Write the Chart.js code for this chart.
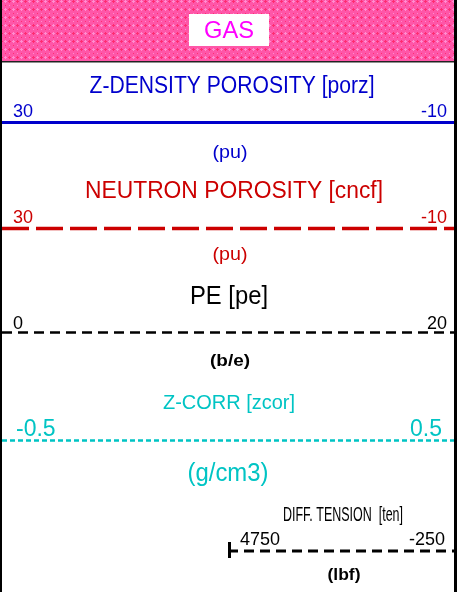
<!DOCTYPE html>
<html>
<head>
<meta charset="utf-8">
<script src="https://cdn.jsdelivr.net/npm/chart.js@4.4.0/dist/chart.umd.min.js"></script>
<style>
  html, body { margin: 0; padding: 0; background: #ffffff; }
  #wrap { width: 460px; height: 592px; }
</style>
</head>
<body>
<div id="wrap"><canvas id="header" width="460" height="592"></canvas></div>
<script>
// log header curves
const curveNames = ['Z-DENSITY POROSITY [porz]', 'NEUTRON POROSITY [cncf]', 'PE [pe]', 'Z-CORR [zcor]', 'DIFF. TENSION  [ten]'];
const curveUnits = ['(pu)', '(pu)', '(b/e)', '(g/cm3)', '(lbf)'];
const leftValues = [30, 30, 0, -0.5, 4750];
const rightValues = [-10, -10, 20, 0.5, -250];
const leftLabels = ['30', '30', '0', '-0.5', '4750'];
const rightLabels = ['-10', '-10', '20', '0.5', '-250'];
const shadingLabel = 'GAS';

// layout / styling per track (pixel units of the header)
// title: [baseline, size, width, dx]; ends: [baseline, size, leftInset, rightInset]; unit: [baseline, size, width, bold, dx]
const trackY = [122.5, 228.5, 332.5, 440.5, 551];
const trackStyle = [
    { color: '#0000cc', width: 3,   dash: [],      title: [93, 23, 285, 4],  ends: [117, 18, 11, 7],   unit: [158, 19, 35, false, 2] },
    { color: '#cc0000', width: 3.5, dash: [27, 7], title: [198, 23, 298, 6], ends: [223, 18, 11, 7],   unit: [260, 19, 35, false, 2] },
    { color: '#000000', width: 2.5, dash: [10, 6], title: [304, 26, 78, 1],  ends: [329, 18, 11, 7],   unit: [366, 17, 40, true, 2] },
    { color: '#00c4c4', width: 2.5, dash: [5, 3],  title: [409, 21, 132, 1], ends: [435.5, 23, 14, 12], unit: [481, 25, 81, false, 0] },
    { color: '#000000', width: 3,   dash: [10, 6], title: [521, 21, 120, 2], ends: [545, 18, 12, 9],   unit: [580, 17, 33, true, 3] },
];
const tensionStartX = 228;
const plotLeft = 2, plotRight = 454;

function xScaleFor(i) {
    let lo = leftValues[i], hi = rightValues[i];
    if (i === 4) {
        // tension track only occupies the right part of the header
        const frac = (tensionStartX - plotLeft) / (plotRight - tensionStartX);
        lo = leftValues[i] + (leftValues[i] - rightValues[i]) * frac;
    }
    return {
        type: 'linear', axis: 'x', display: false,
        min: Math.min(lo, hi), max: Math.max(lo, hi),
        reverse: lo > hi,
    };
}

function fitText(ctx, text, x, y, size, width, color, bold, align) {
    ctx.save();
    ctx.font = (bold ? 'bold ' : '') + size + 'px "Liberation Sans", Arial, sans-serif';
    ctx.fillStyle = color;
    ctx.textBaseline = 'alphabetic';
    ctx.textAlign = align || 'center';
    const w = ctx.measureText(text).width;
    const sx = width ? width / w : 1;
    ctx.translate(x, y);
    ctx.scale(sx, 1);
    ctx.fillText(text, 0, 0);
    ctx.restore();
}

function makePattern(ctx) {
    const c = document.createElement('canvas');
    c.width = 8; c.height = 8;
    const p = c.getContext('2d');
    p.fillStyle = '#ff56a8';
    p.fillRect(0, 0, 8, 8);
    p.fillStyle = '#ff2c70';
    [[1, 1], [0, 1], [2, 1], [1, 0], [1, 2], [5, 5]].forEach(([a, b]) => p.fillRect(a, b, 1, 1));
    p.fillStyle = '#ff8ed0';
    [[5, 1], [4, 1], [6, 1], [5, 0], [5, 2], [1, 5]].forEach(([a, b]) => p.fillRect(a, b, 1, 1));
    return ctx.createPattern(c, 'repeat');
}

const headerPlugin = {
    id: 'logHeader',
    beforeDraw(chart) {
        const ctx = chart.ctx;
        ctx.save();
        ctx.fillStyle = '#ffffff';
        ctx.fillRect(0, 0, 460, 592);
        // shading legend band
        ctx.fillStyle = makePattern(ctx);
        ctx.fillRect(plotLeft, 0, plotRight - plotLeft, 61);
        ctx.fillStyle = '#222222';
        ctx.fillRect(plotLeft, 61, plotRight - plotLeft, 1.5);
        ctx.fillStyle = '#ffffff';
        ctx.fillRect(189, 14, 80, 32);
        ctx.restore();
        fitText(ctx, shadingLabel, 229, 38, 24, 50, '#ff00ff', false);
    },
    afterDatasetsDraw(chart) {
        const ctx = chart.ctx;
        curveNames.forEach((name, i) => {
            const s = trackStyle[i];
            const sc = chart.scales['x' + i];
            const xl = sc.getPixelForValue(leftValues[i]);
            const xr = sc.getPixelForValue(rightValues[i]);
            const mid = (xl + xr) / 2;
            fitText(ctx, name, mid + s.title[3], s.title[0], s.title[1], s.title[2], s.color, false);
            fitText(ctx, leftLabels[i], xl + s.ends[2], s.ends[0], s.ends[1], null, s.color, false, 'left');
            fitText(ctx, rightLabels[i], xr - s.ends[3], s.ends[0], s.ends[1], null, s.color, false, 'right');
            fitText(ctx, curveUnits[i], mid + s.unit[4], s.unit[0], s.unit[1], s.unit[2], s.color, s.unit[3]);
        });
        // start tick on the tension curve
        const ts = chart.scales.x4;
        const tx = ts.getPixelForValue(leftValues[4]);
        ctx.save();
        ctx.fillStyle = '#000000';
        ctx.fillRect(tx, trackY[4] - 9, 3, 16);
        // frame
        ctx.fillRect(0, 0, plotLeft, 592);
        ctx.fillRect(plotRight, 0, 3, 592);
        ctx.restore();
    }
};

const scales = {
    y: { type: 'linear', display: false, min: 0, max: 592, reverse: true },
};
curveNames.forEach((n, i) => { scales['x' + i] = xScaleFor(i); });

const datasets = curveNames.map((name, i) => ({
    label: name,
    xAxisID: 'x' + i,
    yAxisID: 'y',
    data: [{ x: leftValues[i], y: trackY[i] }, { x: rightValues[i], y: trackY[i] }],
    showLine: true,
    borderColor: trackStyle[i].color,
    borderWidth: trackStyle[i].width,
    borderDash: trackStyle[i].dash,
    borderCapStyle: 'butt',
    pointRadius: 0,
    clip: false,
}));

new Chart(document.getElementById('header'), {
    type: 'scatter',
    data: { datasets: datasets },
    options: {
        responsive: false,
        animation: false,
        layout: { padding: { left: plotLeft, right: 460 - plotRight, top: 0, bottom: 0 } },
        scales: scales,
        plugins: {
            legend: { display: false },
            tooltip: { enabled: false },
            title: { display: false },
        },
    },
    plugins: [headerPlugin],
});
</script>
</body>
</html>
